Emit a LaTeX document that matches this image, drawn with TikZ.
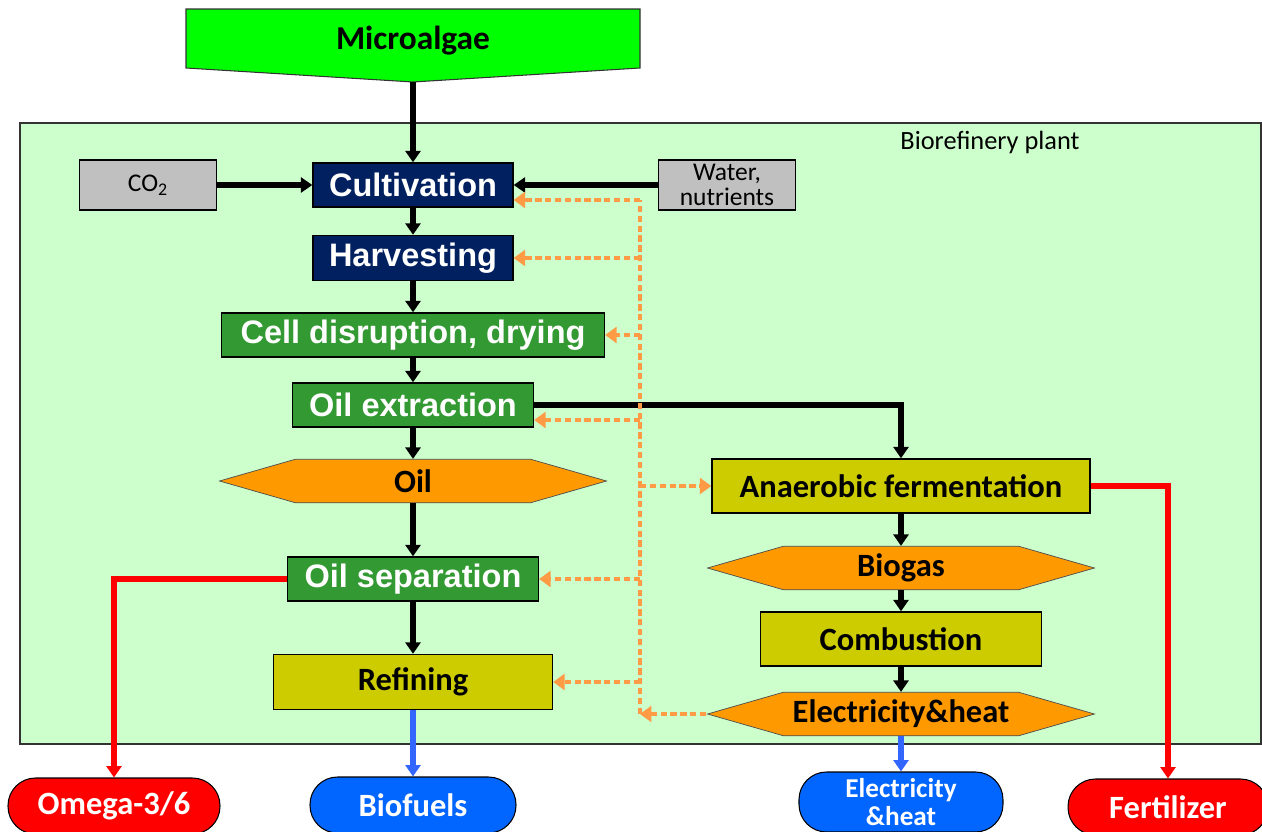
\documentclass[tikz,border=0pt]{standalone}
\usepackage{fontspec}
\setmainfont{Carlito}
\newfontfamily\arialfont{Liberation Sans}
\usetikzlibrary{arrows.meta,shapes.symbols}

\definecolor{plantgreen}{HTML}{CCFFCC}
\definecolor{algaegreen}{HTML}{00FF00}
\definecolor{navybox}{HTML}{002060}
\definecolor{greenbox}{HTML}{339933}
\definecolor{olivebox}{HTML}{CCCC00}
\definecolor{hexorange}{HTML}{FF9900}
\definecolor{feedorange}{HTML}{FF9A45}
\definecolor{outred}{HTML}{FF0000}
\definecolor{outblue}{HTML}{0066FF}
\definecolor{lineblue}{HTML}{3366FF}
\definecolor{inputgrey}{HTML}{C0C0C0}

\tikzset{
  stagebox/.style={draw=black, line width=0.8pt, minimum height=0.88cm, text=white,
    font=\arialfont\bfseries\fontsize{18.5}{20}\selectfont},
  navystage/.style={stagebox, fill=navybox},
  greenstage/.style={stagebox, fill=greenbox},
  olivestage/.style={draw=black, line width=0.8pt, fill=olivebox, minimum height=1.08cm,
    font=\bfseries\fontsize{18.5}{20}\selectfont},
  producthex/.style={signal, signal to=east and west, signal pointer angle=32,
    draw=black!70, fill=hexorange, minimum height=0.87cm, minimum width=7.74cm,
    font=\bfseries\fontsize{18.5}{20}\selectfont},
  inputbox/.style={draw=black, line width=0.8pt, fill=inputgrey, minimum width=2.73cm,
    minimum height=1cm, inner sep=1pt, align=center, font=\fontsize{14.5}{14}\selectfont},
  outnode/.style={draw=black, line width=0.6pt, rounded corners=0.55cm, minimum height=1.12cm,
    text=white, align=center, font=\bfseries\fontsize{18.5}{17}\selectfont},
  flowline/.style={line width=3.2pt, -{Triangle[width=8.5pt,length=6.5pt]}},
  redline/.style={flowline, outred},
  blueline/.style={flowline, lineblue},
  feedline/.style={feedorange, line width=2.8pt, dash pattern=on 3.6pt off 2pt},
  feedarrow/.style={feedline, -{Triangle[width=9pt,length=6.5pt]}}
}

\begin{document}
\begin{tikzpicture}[x=0.02cm, y=-0.02cm]
    \clip (0,0) rectangle (1262,832);

    % Plant area and feedstock
    \draw[fill=plantgreen, draw=black!80, line width=1.2pt] (20,123) rectangle (1261,744);
    \node[font=\fontsize{15}{15}\selectfont] (plant) at (990,142) {Biorefinery plant};
    \draw[fill=algaegreen, draw=black!80, line width=0.6pt]
        (186,9) -- (640,9) -- (640,68) -- (413,82) -- (186,68) -- cycle;
    \node[font=\bfseries\fontsize{19}{20}\selectfont] (algae) at (413,41) {Microalgae};
    \coordinate (algaetip) at (413,82);

    % Oil route
    \node[navystage, minimum width=4cm] (cult) at (413,185) {Cultivation};
    \node[navystage, minimum width=4cm, minimum height=0.9cm] (harv) at (413,258) {Harvesting};
    \node[greenstage, minimum width=7.66cm] (cell) at (413,335) {Cell disruption, drying};
    \node[greenstage, minimum width=4.82cm] (extr) at (413,405) {Oil extraction};
    \node[producthex] (oil) at (413,481) {Oil};
    \node[greenstage, minimum width=5.02cm] (sep) at (413,579) {Oil separation};
    \node[olivestage, minimum width=5.58cm, minimum height=1.1cm] (refin) at (413,682) {Refining};

    % Inputs
    \node[inputbox] (co2) at (148,185) {CO\textsubscript{2}};
    \node[inputbox] (water) at (727,185) {Water,\\nutrients};

    % Residue route
    \node[olivestage, minimum width=7.56cm] (anaer) at (901,486) {Anaerobic fermentation};
    \node[producthex] (biogas) at (901,568) {Biogas};
    \node[olivestage, minimum width=5.62cm] (comb) at (901,639) {Combustion};
    \node[producthex] (ehhex) at (901,714) {Electricity\&heat};

    % Products
    \node[outnode, fill=outred, minimum width=4.24cm] (omega) at (114,806) {Omega-3/6};
    \node[outnode, fill=outblue, minimum width=4.12cm] (biofuels) at (413,805) {Biofuels};
    \node[outnode, fill=outblue, minimum width=4.08cm, minimum height=1.2cm, inner sep=1pt,
        font=\bfseries\fontsize{15.5}{16}\selectfont] (elecout) at (901,802) {Electricity\\\&heat};
    \node[outnode, fill=outred, minimum width=4cm] (fert) at (1168,807) {Fertilizer};

    % Main flow
    \draw[flowline] (algaetip) -- (cult.north);
    \draw[flowline] (co2) -- (cult);
    \draw[flowline] (water) -- (cult);
    \draw[flowline] (cult) -- (harv);
    \draw[flowline] (harv) -- (cell);
    \draw[flowline] (cell) -- (extr);
    \draw[flowline] (extr) -- (oil);
    \draw[flowline] (oil) -- (sep);
    \draw[flowline] (sep) -- (refin);
    \draw[flowline] (extr.east) -| (anaer.north);
    \draw[flowline] (anaer) -- (biogas);
    \draw[flowline] (biogas) -- (comb);
    \draw[flowline] (comb) -- (ehhex);

    % Products out
    \draw[redline] (sep.west) -| (omega.north);
    \draw[redline] (anaer.east) -| (fert.north);
    \draw[blueline] (refin.south) -- (biofuels.north);
    \draw[blueline] (ehhex.south) -- (elecout.north);

    % Energy fed back (orange)
    \coordinate (feedtop) at (640,200);
    \coordinate (feedbot) at (640,714);
    \coordinate (extrfeed) at ([yshift=-0.3cm]extr.east);
    \draw[feedarrow] (ehhex.west) -- (feedbot);
    \draw[feedline] (feedbot) -- (feedtop);
    \draw[feedarrow] (feedtop) -- (cult.east |- feedtop);
    \draw[feedarrow] (feedtop |- harv) -- (harv.east);
    \draw[feedarrow] (feedtop |- cell) -- (cell.east);
    \draw[feedarrow] (feedtop |- extrfeed) -- (extrfeed);
    \draw[feedarrow] (feedtop |- anaer) -- (anaer.west);
    \draw[feedarrow] (feedtop |- sep) -- (sep.east);
    \draw[feedarrow] (feedtop |- refin) -- (refin.east);
\end{tikzpicture}
\end{document}
